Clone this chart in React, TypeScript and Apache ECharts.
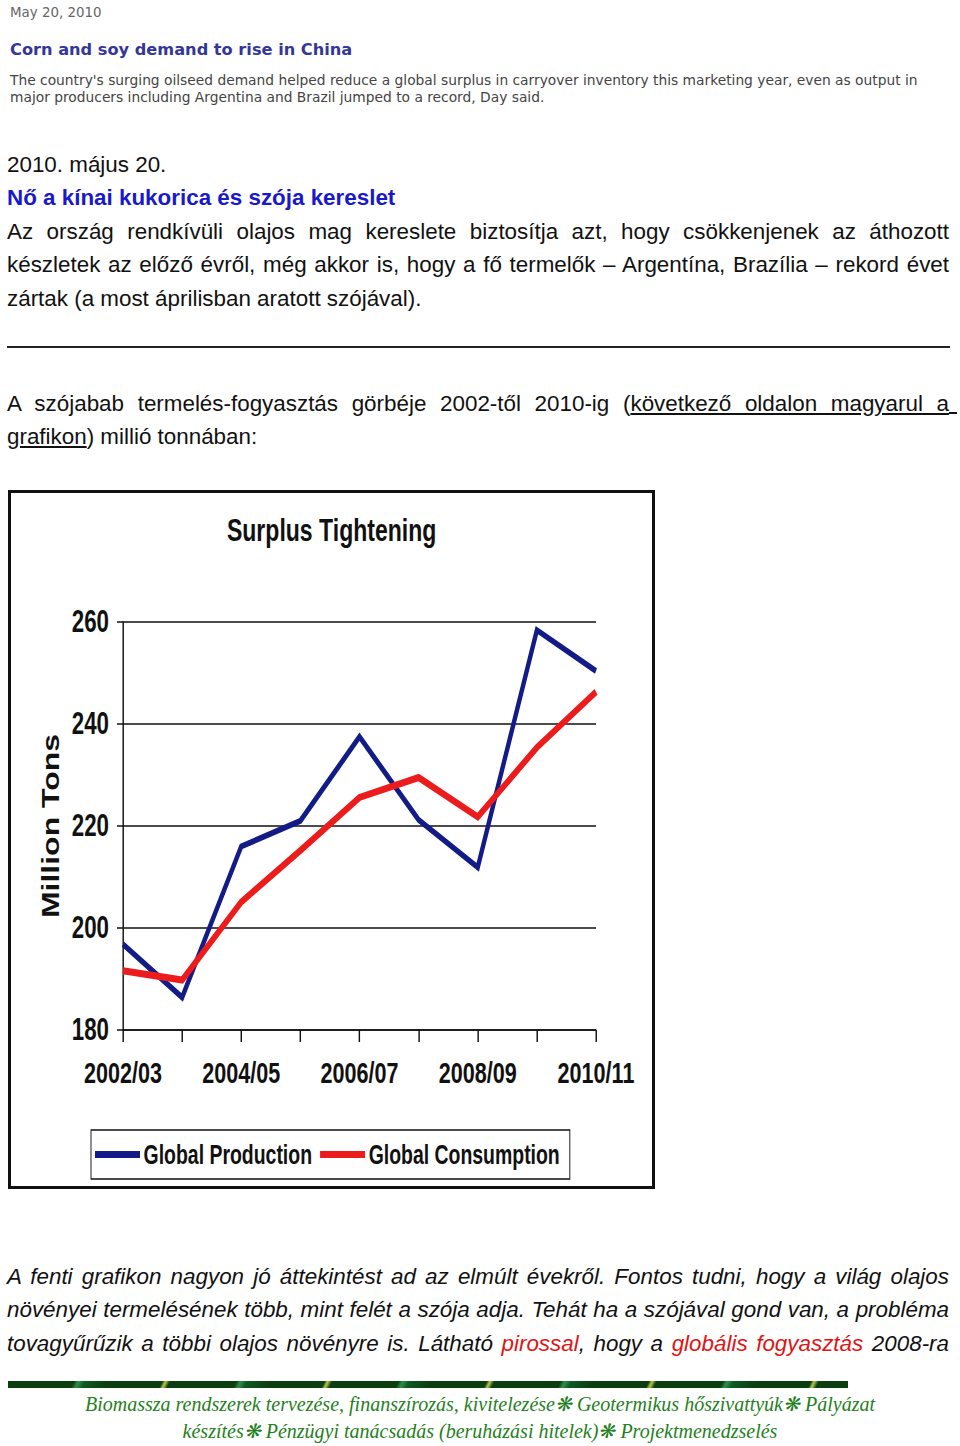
import React, { useEffect, useRef } from "react";
import * as echarts from "echarts";

// ---- chart data ----
const categories = ["2002/03", "2003/04", "2004/05", "2005/06", "2006/07", "2007/08", "2008/09", "2009/10", "2010/11"];
const production = [196.8, 186.4, 216.0, 221.0, 237.5, 221.2, 211.9, 258.4, 250.4];
const consumption = [191.6, 189.8, 205.1, 215.2, 225.6, 229.5, 221.8, 235.4, 246.3];
const seriesNames = ["Global Production", "Global Consumption"];
const yMin = 180;
const yMax = 260;
const yStep = 20;
const chartTitle = "Surplus Tightening";
const yAxisName = "Million Tons";

const ARIAL = '"Liberation Sans", Arial, sans-serif';
// the original chart uses a condensed face; the chart is drawn wider and squeezed horizontally
const S = 0.72;
const W = 647;
const H = 699;

function Chart() {
  const ref = useRef<HTMLDivElement>(null);
  useEffect(() => {
    if (!ref.current) return;
    const chart = echarts.init(ref.current, undefined, { renderer: "svg" });
    chart.setOption({
      animation: false,
      backgroundColor: "#ffffff",
      title: {
        text: chartTitle,
        left: "center",
        top: 23,
        padding: 0,
        textStyle: { fontFamily: ARIAL, fontWeight: "bold", fontSize: 32, lineHeight: 34, color: "#111" },
      },
      grid: { left: 115 / S, top: 132, width: 473 / S, height: 408, containLabel: false },
      legend: {
        data: seriesNames,
        left: 83 / S,
        top: 640,
        icon: "rect",
        itemWidth: 45 / S,
        itemHeight: 7,
        itemGap: 8 / S,
        borderColor: "#111",
        borderWidth: 1.3,
        borderRadius: 0,
        padding: [11, 10 / S, 11, 4 / S],
        textStyle: { fontFamily: ARIAL, fontWeight: "bold", fontSize: 27, color: "#111" },
      },
      xAxis: {
        type: "category",
        data: categories,
        boundaryGap: false,
        axisLine: { show: true, lineStyle: { color: "#111", width: 1.5 } },
        axisTick: { show: true, interval: 0, length: 12, lineStyle: { color: "#111", width: 2 } },
        axisLabel: { interval: 1, margin: 28, fontFamily: ARIAL, fontWeight: "bold", fontSize: 30, color: "#111" },
        splitLine: { show: false },
      },
      yAxis: {
        type: "value",
        min: yMin,
        max: yMax,
        interval: yStep,
        name: yAxisName,
        nameLocation: "middle",
        nameGap: 84,
        nameMoveOverlap: false,
        nameTextStyle: { fontFamily: ARIAL, fontWeight: "bold", fontSize: 32, color: "#111" },
        axisLine: { show: true, lineStyle: { color: "#111", width: 2 } },
        axisTick: { show: true, length: 6 / S, lineStyle: { color: "#111", width: 1.5 } },
        axisLabel: { margin: 14 / S, fontFamily: ARIAL, fontWeight: "bold", fontSize: 31, color: "#111" },
        splitLine: { show: true, lineStyle: { color: "#111", width: 1.5 } },
      },
      series: [
        {
          name: seriesNames[0],
          type: "line",
          data: production,
          symbol: "none",
          showSymbol: false,
          lineStyle: { color: "#121b86", width: 6, join: "miter" },
          itemStyle: { color: "#121b86" },
        },
        {
          name: seriesNames[1],
          type: "line",
          data: consumption,
          symbol: "none",
          showSymbol: false,
          lineStyle: { color: "#ec1c1c", width: 7, join: "miter" },
          itemStyle: { color: "#ec1c1c" },
        },
      ],
    });
    return () => chart.dispose();
  }, []);
  return (
    <>
      <div
        ref={ref}
        style={{
          position: "absolute",
          left: 8,
          top: 490,
          width: Math.round(W / S),
          height: H,
          transform: `scaleX(${S})`,
          transformOrigin: "0 0",
        }}
      />
      <div
        style={{
          position: "absolute",
          left: 8,
          top: 490,
          width: W,
          height: H,
          border: "3px solid #111",
          boxSizing: "border-box",
          pointerEvents: "none",
        }}
      />
    </>
  );
}

type LProps = {
  top: number;
  left?: number;
  width?: number;
  size: number;
  lh?: number;
  justify?: boolean;
  center?: boolean;
  style?: React.CSSProperties;
  children?: React.ReactNode;
};

function L(p: LProps) {
  return (
    <div
      style={{
        position: "absolute",
        top: p.top,
        left: p.left ?? 7,
        width: p.width ?? 942,
        fontSize: p.size,
        lineHeight: `${p.lh ?? 26}px`,
        whiteSpace: "nowrap",
        textAlign: p.center ? "center" : p.justify ? "justify" : "left",
        textAlignLast: p.center ? "center" : p.justify ? "justify" : "auto",
        fontFamily: ARIAL,
        color: "#111",
        ...p.style,
      }}
    >
      {p.children}
    </div>
  );
}

export default function App() {
  const verd = '"DejaVu Sans", Verdana, sans-serif';
  const it: React.CSSProperties = { fontStyle: "italic" };
  const red: React.CSSProperties = { color: "#e01414" };
  const u: React.CSSProperties = { textDecoration: "underline" };
  const foot: React.CSSProperties = {
    fontFamily: '"Liberation Serif", "DejaVu Serif", serif',
    fontStyle: "italic",
    color: "#1f7f22",
  };
  const fs = 22.4;
  return (
    <div style={{ position: "absolute", left: 0, top: 0, width: 960, height: 1446, background: "#fff", overflow: "hidden" }}>
      {/* scanned English header */}
      <L top={4.5} left={10} size={13.4} lh={16} style={{ fontFamily: verd, color: "#666" }}>May 20, 2010</L>
      <L top={40} left={10} size={16.2} lh={19} style={{ fontFamily: verd, color: "#33379a", fontWeight: "bold" }}>
        Corn and soy demand to rise in China
      </L>
      <L top={72} left={10} size={13.8} lh={16} style={{ fontFamily: verd, color: "#444" }}>
        The country's surging oilseed demand helped reduce a global surplus in carryover inventory this marketing year, even as output in
      </L>
      <L top={89} left={10} size={13.8} lh={16} style={{ fontFamily: verd, color: "#444" }}>
        major producers including Argentina and Brazil jumped to a record, Day said.
      </L>

      {/* Hungarian text */}
      <L top={152.4} size={fs}>2010. május 20.</L>
      <L top={185.4} size={fs} style={{ color: "#1818cc", fontWeight: "bold" }}>Nő a kínai kukorica és szója kereslet</L>
      <L top={219} size={fs} justify>
        Az ország rendkívüli olajos mag kereslete biztosítja azt, hogy csökkenjenek az áthozott
      </L>
      <L top={252} size={fs} justify>
        készletek az előző évről, még akkor is, hogy a fő termelők – Argentína, Brazília – rekord évet
      </L>
      <L top={286} size={fs}>zártak (a most áprilisban aratott szójával).</L>

      <div style={{ position: "absolute", left: 7, top: 346, width: 943, height: 1.5, background: "#222" }} />

      <L top={390.5} size={fs} justify>
        A szójabab termelés-fogyasztás görbéje 2002-től 2010-ig (<span style={u}>következő oldalon magyarul a</span>
      </L>
      <div style={{ position: "absolute", left: 949, top: 412, width: 8, height: 1.5, background: "#111" }} />
      <L top={423.5} size={fs}>
        <span style={u}>grafikon</span>) millió tonnában:
      </L>

      <Chart />

      <L top={1263.5} size={fs} justify style={it}>
        A fenti grafikon nagyon jó áttekintést ad az elmúlt évekről. Fontos tudni, hogy a világ olajos
      </L>
      <L top={1296.5} size={fs} justify style={it}>
        növényei termelésének több, mint felét a szója adja. Tehát ha a szójával gond van, a probléma
      </L>
      <L top={1330.5} size={fs} justify style={it}>
        tovagyűrűzik a többi olajos növényre is. Látható <span style={red}>pirossal</span>, hogy a{" "}
        <span style={red}>globális fogyasztás</span> 2008-ra
      </L>

      {/* decorative footer */}
      <div
        style={{
          position: "absolute",
          left: 8,
          top: 1381,
          width: 840,
          height: 7,
          background:
            "repeating-linear-gradient(115deg, #0b3f10 0px, #0b3f10 60px, #2f8f4a 64px, #0e5a22 70px, #0b3f10 90px, #0b3f10 140px, #b7c845 143px, #0b3f10 147px)",
        }}
      />
      <L top={1392} left={0} width={960} size={20} lh={24} center style={foot}>
        Biomassza rendszerek tervezése, finanszírozás, kivitelezése❋ Geotermikus hőszivattyúk❋ Pályázat
      </L>
      <L top={1419} left={0} width={960} size={20} lh={24} center style={foot}>
        készítés❋ Pénzügyi tanácsadás (beruházási hitelek)❋ Projektmenedzselés
      </L>
    </div>
  );
}
